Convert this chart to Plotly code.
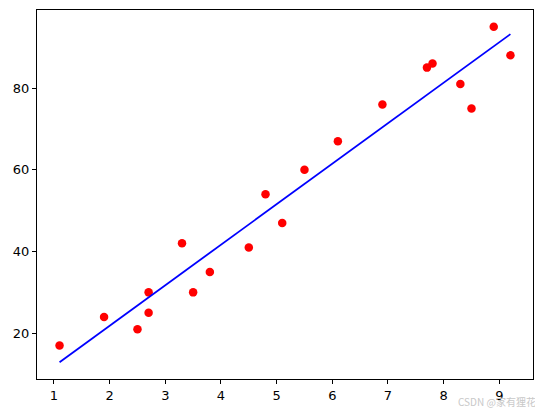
import numpy as np
import plotly.graph_objects as go

hours = [1.1, 1.9, 2.5, 2.7, 2.7, 3.3, 3.5, 3.8, 4.5, 4.8, 5.1, 5.5, 6.1, 6.9, 7.7, 7.8, 8.3, 8.5, 8.9, 9.2]
scores = [17, 24, 21, 30, 25, 42, 30, 35, 41, 54, 47, 60, 67, 76, 85, 86, 81, 75, 95, 88]

# linear regression fit (as in original chart)
coef, intercept = np.polyfit(hours, scores, 1)
fit_y = [coef * h + intercept for h in hours]

fig = go.Figure()
fig.add_trace(go.Scatter(x=hours, y=scores, mode="markers",
                         marker=dict(color="red", size=8.5), showlegend=False))
fig.add_trace(go.Scatter(x=hours, y=fit_y, mode="lines",
                         line=dict(color="blue", width=1.8), showlegend=False))

axis_common = dict(showgrid=False, zeroline=False, showline=True, linecolor="black",
                   linewidth=1, mirror=True, ticks="outside", ticklen=4, tickwidth=1,
                   tickcolor="black", tickfont=dict(family="DejaVu Sans", size=13, color="black"))

fig.update_xaxes(range=[0.695, 9.605], tickvals=list(range(1, 10)), **axis_common)
fig.update_yaxes(range=[8.8, 99.1], tickvals=[20, 40, 60, 80], **axis_common)

fig.add_annotation(text="CSDN @家有狸花", xref="paper", yref="paper", x=1.01, y=-0.0615,
                   xanchor="right", yanchor="middle", showarrow=False,
                   font=dict(family="Noto Sans CJK SC", size=10, color="#c8c8c8"))

fig.update_layout(width=535, height=405, plot_bgcolor="white", paper_bgcolor="white",
                  margin=dict(l=29, r=10, t=2, b=34, autoexpand=False))

fig.write_html("out.html")
